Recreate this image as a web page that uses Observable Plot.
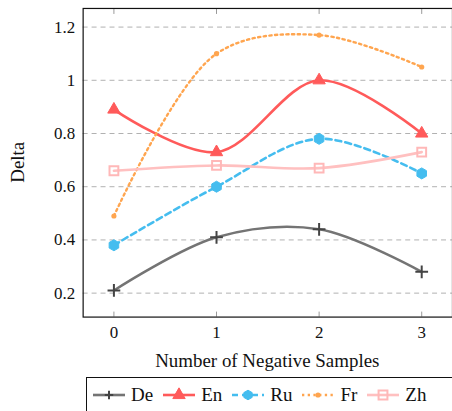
<!DOCTYPE html>
<html>
<head>
<meta charset="utf-8">
<script src="https://cdn.jsdelivr.net/npm/d3@7"></script>
<script src="https://cdn.jsdelivr.net/npm/@observablehq/plot@0.6"></script>
<style>
  html, body { margin: 0; padding: 0; background: white; overflow: hidden; }
  #wrap { width: 452px; overflow: hidden; }
  #wrap, #wrap text, #wrap span, #wrap svg { font-family: 'Liberation Serif', serif !important; }
  .legend { position: relative; margin-left: 86px; margin-top: 3px; width: 372px; height: 40px;
            border: 1px solid #111; box-sizing: border-box; display: flex; align-items: center;
            padding-left: 6px; padding-bottom: 4px; font-size: 19px; color: #111; }
  .item { display: flex; align-items: center; margin-right: 10px; }
  .item svg { margin-right: 6px; overflow: visible; }
</style>
</head>
<body>
<div id="wrap"></div>
<script>
const xs = [0, 1, 2, 3];
const series = ["De", "En", "Ru", "Fr", "Zh"];
const De = [0.21, 0.41, 0.44, 0.28];
const En = [0.89, 0.73, 1.00, 0.80];
const Ru = [0.38, 0.60, 0.78, 0.65];
const Fr = [0.49, 1.10, 1.17, 1.05];
const Zh = [0.66, 0.68, 0.67, 0.73];
const yTicks = [0.2, 0.4, 0.6, 0.8, 1.0, 1.2];

const values = {De, En, Ru, Fr, Zh};
const styles = {
  De: {stroke: "#747474", dash: null, symbol: "plus", r: 4.2, fill: "none", mstroke: "#444", msw: 2},
  En: {stroke: "#ff5a5a", dash: null, symbol: "triangle", r: 4.6, fill: "#ff5a5a", mstroke: "#ff5a5a", msw: 1},
  Ru: {stroke: "#45bdef", dash: "6,4", symbol: "hexagon", r: 4.8, fill: "#45bdef", mstroke: "#45bdef", msw: 1},
  Fr: {stroke: "#ffa54f", dash: "2.3,3.4", symbol: "circle", r: 2.6, fill: "#ffa54f", mstroke: "none", msw: 0},
  Zh: {stroke: "#ffc0c0", dash: null, symbol: "square", r: 5, fill: "none", mstroke: "#ffb8b8", msw: 2}
};

const marks = [
  Plot.gridY(yTicks, {stroke: "#b0b0b0", strokeOpacity: 1, strokeDasharray: "5,4"}),
  Plot.axisY(yTicks, {tickSize: 0, tickPadding: 8, fontSize: 17,
    tickFormat: d => String(+d.toFixed(1)), label: null}),
  Plot.axisX(xs, {anchor: "bottom", tickSize: -5, tickPadding: 14, fontSize: 17, stroke: "#999", label: null}),
  Plot.axisX(xs, {anchor: "top", tickSize: -5, tickFormat: () => "", stroke: "#999", label: null}),
];
for (const s of series) {
  const st = styles[s];
  const data = xs.map((x, i) => ({x, y: values[s][i], s}));
  marks.push(Plot.line(data, {x: "x", y: "y", stroke: st.stroke, strokeWidth: s === "Fr" ? 2.4 : 2.6,
    strokeDasharray: st.dash, curve: "catmull-rom"}));
}
for (const s of series) {
  const st = styles[s];
  const data = xs.map((x, i) => ({x, y: values[s][i], s}));
  marks.push(Plot.dot(data, {x: "x", y: "y", symbol: () => st.symbol, r: st.r, fill: st.fill,
    stroke: st.mstroke, strokeWidth: st.msw}));
}
marks.push(Plot.frame({stroke: "#111", strokeWidth: 1.2}));

const chart = Plot.plot({
  width: 454, height: 376,
  marginLeft: 83, marginRight: 0, marginTop: 8, marginBottom: 58,
  style: {fontFamily: "'Liberation Serif', serif", fontSize: "17px", color: "#111", background: "white"},
  x: {domain: [-0.3, 3.3], axis: null},
  y: {domain: [0.11, 1.27], axis: null},
  marks
});
const svg = d3.select(chart);
svg.append("text").attr("x", 268.5).attr("y", 362).attr("text-anchor", "middle")
  .attr("dominant-baseline", "central").attr("font-size", 19).attr("fill", "#111")
  .text("Number of Negative Samples");
svg.append("text").attr("transform", "translate(18,163) rotate(-90)").attr("text-anchor", "middle")
  .attr("dominant-baseline", "central").attr("font-size", 19).attr("fill", "#111").text("Delta");

const wrap = document.getElementById("wrap");
wrap.appendChild(chart);

const legend = document.createElement("div");
legend.className = "legend";
const symMap = {triangle: d3.symbolTriangle, circle: d3.symbolCircle, square: d3.symbolSquare};
for (const s of series) {
  const st = styles[s];
  const item = document.createElement("div");
  item.className = "item";
  const sw = d3.create("svg").attr("width", 32).attr("height", 14);
  sw.append("line").attr("x1", 0).attr("x2", 32).attr("y1", 7).attr("y2", 7)
    .attr("stroke", st.stroke).attr("stroke-width", s === "Fr" ? 2.4 : 2.6)
    .attr("stroke-dasharray", st.dash);
  let path;
  const r = st.r;
  if (st.symbol === "hexagon") {
    const pts = d3.range(6).map(i => [r * Math.sin(i * Math.PI / 3), -r * Math.cos(i * Math.PI / 3)]);
    path = "M" + pts.join("L") + "Z";
  } else if (st.symbol === "plus") {
    path = `M${-r},0H${r}M0,${-r}V${r}`;
  } else {
    path = d3.symbol(symMap[st.symbol], Math.PI * r * r)();
  }
  sw.append("path").attr("d", path).attr("transform", "translate(16,7)")
    .attr("fill", st.fill).attr("stroke", st.mstroke).attr("stroke-width", st.msw);
  item.appendChild(sw.node());
  const t = document.createElement("span");
  t.textContent = s;
  item.appendChild(t);
  legend.appendChild(item);
}
wrap.appendChild(legend);
</script>
</body>
</html>
